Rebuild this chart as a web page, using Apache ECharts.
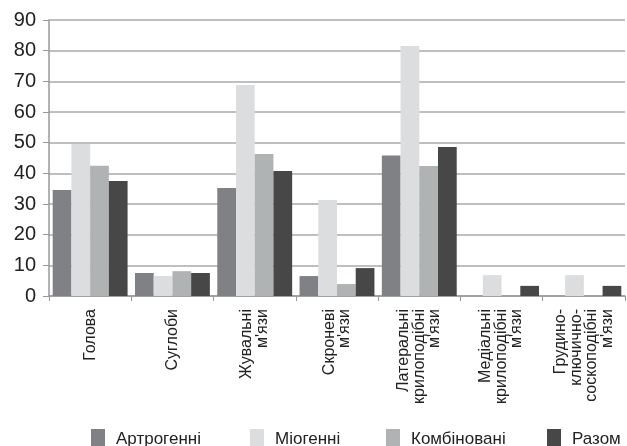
<!DOCTYPE html>
<html>
<head>
<meta charset="utf-8">
<script src="https://cdn.jsdelivr.net/npm/echarts@6/dist/echarts.min.js"></script>
<style>
  html, body { margin: 0; padding: 0; background: #fff; }
  #chart { width: 627px; height: 446px; }
</style>
</head>
<body>
<div id="chart"></div>
<script>
var categories = [
  'Голова',
  'Суглоби',
  'Жувальні\nм\'язи',
  'Скроневі\nм\'язи',
  'Латеральні\nкрилоподібні\nм\'язи',
  'Медіальні\nкрилоподібні\nм\'язи',
  'Грудино-\nключично-\nсоскоподібні\nм\'язи'
];
var seriesNames = ['Артрогенні', 'Міогенні', 'Комбіновані', 'Разом'];
var artrogenni = [34.6, 7.5, 35.2, 6.5, 45.8, 0, 0];
var miogenni = [49.6, 6.5, 68.8, 31.3, 81.5, 6.8, 6.8];
var kombinovani = [42.5, 8.1, 46.3, 3.9, 42.4, 0, 0];
var razom = [37.5, 7.5, 40.8, 9.1, 48.6, 3.3, 3.3];
var colors = ['#808184', '#dcdddf', '#b0b3b3', '#474747'];

var chart = echarts.init(document.getElementById('chart'));

var allData = [artrogenni, miogenni, kombinovani, razom];
var series = allData.map(function(d, i) {
  return {
    name: seriesNames[i],
    type: 'bar',
    barGap: '0%',
    barCategoryGap: '9%',
    itemStyle: { color: colors[i] },
    data: d
  };
});

// окремі легенди, щоб розставити як в оригіналі
var legendLeft = [86, 245, 381, 542];
var legends = seriesNames.map(function(n, i) {
  return {
    data: [n],
    left: legendLeft[i],
    top: 424,
    itemWidth: 14,
    itemHeight: 20,
    icon: 'rect',
    selectedMode: false,
    textStyle: {
      fontFamily: 'Liberation Sans',
      fontSize: 17,
      color: '#222',
      padding: [0, 0, 0, 6]
    }
  };
});

chart.setOption({
  animation: false,
  color: colors,
  legend: legends,
  grid: {
    left: 49,
    right: 2,
    top: 20,
    bottom: 150
  },
  xAxis: {
    type: 'category',
    data: categories,
    axisLine: { lineStyle: { color: '#999', width: 1.5 } },
    axisTick: { show: true, length: 5, lineStyle: { color: '#999' } },
    axisLabel: {
      rotate: 90,
      interval: 0,
      margin: 13,
      fontFamily: 'Liberation Sans',
      fontSize: 16,
      lineHeight: 15.5,
      color: '#222'
    }
  },
  yAxis: {
    type: 'value',
    min: 0,
    max: 90,
    interval: 10,
    axisLine: { show: true, lineStyle: { color: '#999', width: 1.5 } },
    axisTick: { show: true, length: 6, lineStyle: { color: '#999' } },
    axisLabel: {
      margin: 13,
      fontFamily: 'Liberation Sans',
      fontSize: 20,
      color: '#222'
    },
    splitLine: { lineStyle: { color: '#aaa', width: 1.5 } }
  },
  series: series
});
</script>
</body>
</html>
